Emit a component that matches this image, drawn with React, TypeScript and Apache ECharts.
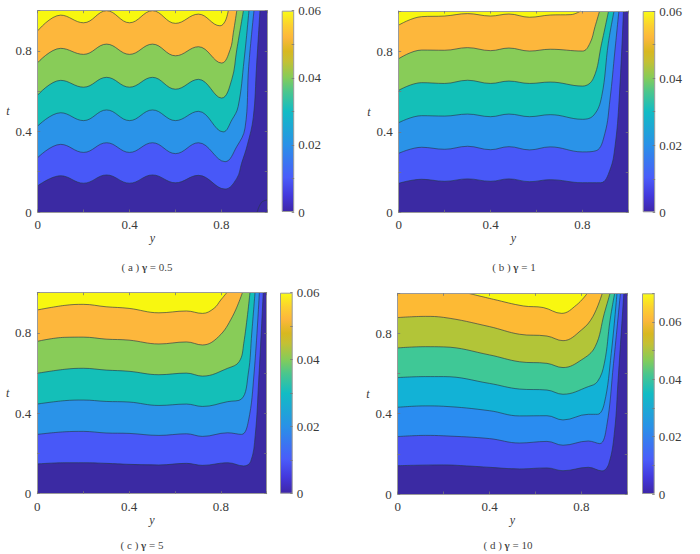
import React, { useEffect, useRef } from "react";
import * as echarts from "echarts";

type Pt = [number, number];

// Contours of panel (a), gamma = 0.5: [y, t]
const a0: Pt[] = [[0.956, 0], [0.975, 0.048], [1, 0.06]];
const a1: Pt[] = [[0, 0.13], [0.1, 0.18], [0.2, 0.143], [0.3, 0.184], [0.4, 0.143], [0.5, 0.184], [0.6, 0.145], [0.7, 0.182], [0.816, 0.114], [0.867, 0.167], [0.888, 0.242], [0.913, 0.333], [0.939, 0.47], [0.953, 0.72], [0.968, 1]];
const a2: Pt[] = [[0, 0.27], [0.1, 0.336], [0.2, 0.296], [0.3, 0.344], [0.4, 0.296], [0.5, 0.344], [0.6, 0.29], [0.7, 0.344], [0.816, 0.25], [0.867, 0.325], [0.903, 0.417], [0.919, 0.723], [0.942, 1]];
const a3: Pt[] = [[0, 0.427], [0.1, 0.493], [0.2, 0.454], [0.3, 0.507], [0.4, 0.454], [0.5, 0.507], [0.6, 0.454], [0.7, 0.5], [0.808, 0.398], [0.846, 0.458], [0.873, 0.524], [0.899, 0.756], [0.92, 1]];
const a4: Pt[] = [[0, 0.581], [0.1, 0.654], [0.2, 0.62], [0.3, 0.669], [0.4, 0.62], [0.5, 0.669], [0.6, 0.61], [0.7, 0.659], [0.801, 0.566], [0.845, 0.657], [0.867, 0.806], [0.896, 1]];
const a5: Pt[] = [[0, 0.742], [0.1, 0.813], [0.2, 0.783], [0.3, 0.834], [0.4, 0.783], [0.5, 0.834], [0.6, 0.776], [0.7, 0.821], [0.801, 0.74], [0.838, 0.806], [0.852, 0.89], [0.867, 1]];
const a6: Pt[] = [[0, 0.9], [0.1, 0.978], [0.2, 0.94], [0.3, 1], [0.4, 0.94], [0.5, 1], [0.6, 0.937], [0.7, 0.983], [0.794, 0.925], [0.816, 0.947], [0.83, 1]];

// Panel (b), gamma = 1
const b1: Pt[] = [[0, 0.144], [0.1, 0.164], [0.2, 0.154], [0.3, 0.166], [0.4, 0.154], [0.48, 0.166], [0.57, 0.152], [0.66, 0.162], [0.8, 0.147], [0.88, 0.147], [0.92, 0.21], [0.942, 0.326], [0.96, 0.558], [0.979, 1]];
const b2: Pt[] = [[0, 0.293], [0.1, 0.323], [0.2, 0.313], [0.3, 0.328], [0.4, 0.311], [0.48, 0.326], [0.57, 0.31], [0.66, 0.325], [0.8, 0.3], [0.86, 0.306], [0.898, 0.392], [0.92, 0.558], [0.942, 0.806], [0.959, 1]];
const b3: Pt[] = [[0, 0.445], [0.1, 0.48], [0.2, 0.478], [0.3, 0.488], [0.4, 0.475], [0.48, 0.488], [0.57, 0.475], [0.66, 0.485], [0.8, 0.462], [0.85, 0.483], [0.884, 0.575], [0.913, 0.84], [0.938, 1]];
const b4: Pt[] = [[0, 0.606], [0.1, 0.644], [0.2, 0.64], [0.3, 0.656], [0.4, 0.64], [0.48, 0.652], [0.57, 0.64], [0.66, 0.647], [0.8, 0.627], [0.848, 0.666], [0.884, 0.84], [0.914, 1]];
const b5: Pt[] = [[0, 0.763], [0.1, 0.806], [0.2, 0.805], [0.3, 0.818], [0.4, 0.803], [0.48, 0.816], [0.57, 0.801], [0.66, 0.81], [0.8, 0.801], [0.833, 0.84], [0.855, 0.922], [0.875, 1]];
const b6: Pt[] = [[0, 0.93], [0.1, 0.972], [0.2, 0.975], [0.3, 0.987], [0.4, 0.975], [0.48, 0.985], [0.57, 0.969], [0.66, 0.98], [0.75, 0.982], [0.793, 1]];

// Panel (c), gamma = 5
const c1: Pt[] = [[0, 0.148], [0.12, 0.154], [0.2, 0.154], [0.3, 0.151], [0.4, 0.146], [0.53, 0.143], [0.65, 0.151], [0.72, 0.141], [0.83, 0.154], [0.9, 0.138], [0.93, 0.16], [0.95, 0.29], [0.965, 0.56], [0.985, 1]];
const c2: Pt[] = [[0, 0.295], [0.12, 0.308], [0.2, 0.31], [0.3, 0.302], [0.4, 0.3], [0.53, 0.29], [0.65, 0.298], [0.72, 0.285], [0.83, 0.303], [0.89, 0.295], [0.92, 0.36], [0.945, 0.6], [0.968, 1]];
const c3: Pt[] = [[0, 0.446], [0.12, 0.463], [0.2, 0.466], [0.3, 0.459], [0.4, 0.456], [0.53, 0.439], [0.65, 0.446], [0.72, 0.434], [0.83, 0.458], [0.89, 0.471], [0.92, 0.6], [0.935, 0.8], [0.949, 1]];
const c4: Pt[] = [[0, 0.599], [0.12, 0.619], [0.2, 0.624], [0.3, 0.615], [0.4, 0.609], [0.53, 0.592], [0.65, 0.6], [0.72, 0.585], [0.83, 0.624], [0.88, 0.657], [0.9, 0.748], [0.927, 1]];
const c5: Pt[] = [[0, 0.758], [0.12, 0.778], [0.2, 0.779], [0.3, 0.769], [0.4, 0.764], [0.53, 0.745], [0.65, 0.755], [0.72, 0.74], [0.79, 0.781], [0.85, 0.88], [0.894, 1]];
const c6: Pt[] = [[0, 0.914], [0.12, 0.937], [0.2, 0.942], [0.3, 0.93], [0.4, 0.922], [0.53, 0.9], [0.65, 0.909], [0.72, 0.897], [0.77, 0.922], [0.8, 0.964], [0.826, 1]];

// Panel (d), gamma = 10
const d1: Pt[] = [[0, 0.141], [0.2, 0.145], [0.3, 0.14], [0.4, 0.133], [0.53, 0.125], [0.65, 0.13], [0.72, 0.116], [0.83, 0.133], [0.89, 0.115], [0.92, 0.153], [0.945, 0.319], [0.96, 0.568], [0.985, 1]];
const d2: Pt[] = [[0, 0.286], [0.12, 0.292], [0.2, 0.29], [0.4, 0.276], [0.53, 0.254], [0.65, 0.262], [0.72, 0.243], [0.83, 0.264], [0.88, 0.251], [0.91, 0.336], [0.94, 0.651], [0.97, 1]];
const d3: Pt[] = [[0, 0.432], [0.12, 0.439], [0.2, 0.437], [0.4, 0.415], [0.53, 0.389], [0.65, 0.39], [0.72, 0.369], [0.83, 0.397], [0.87, 0.397], [0.9, 0.452], [0.93, 0.7], [0.955, 1]];
const d4: Pt[] = [[0, 0.58], [0.12, 0.585], [0.2, 0.585], [0.4, 0.551], [0.53, 0.523], [0.65, 0.518], [0.72, 0.497], [0.83, 0.535], [0.87, 0.56], [0.9, 0.651], [0.925, 0.867], [0.945, 1]];
const d5: Pt[] = [[0, 0.728], [0.12, 0.734], [0.2, 0.733], [0.4, 0.693], [0.53, 0.659], [0.65, 0.651], [0.72, 0.63], [0.8, 0.668], [0.86, 0.734], [0.9, 0.9], [0.925, 1]];
const d6: Pt[] = [[0, 0.879], [0.12, 0.885], [0.2, 0.88], [0.4, 0.834], [0.53, 0.796], [0.65, 0.787], [0.72, 0.764], [0.8, 0.817], [0.85, 0.884], [0.891, 1]];
const d7: Pt[] = [[0.308, 1], [0.417, 0.97], [0.547, 0.937], [0.634, 0.929], [0.714, 0.9], [0.779, 0.942], [0.826, 1]];

const basePlane: Pt[] = [[0, 0], [1, 0]];
const captions = ["a|0.5", "b|1", "c|5", "d|10"];
const axisTicks = ["0", "0.4", "0.8"];
const barTicksLabels = ["0", "0.02", "0.04", "0.06"];
const barMaxima = [0.06, 0.06, 0.06, 0.07];

const contours: Pt[][][] = [
  [a1, a2, a3, a4, a5, a6],
  [b1, b2, b3, b4, b5, b6],
  [c1, c2, c3, c4, c5, c6],
  [d1, d2, d3, d4, d5, d6, d7],
];
const bandColors6 = ["#3B2AA3", "#4858F8", "#2A93E8", "#14BFB8", "#88CC58", "#FDB73C", "#F8F710"];
const bandColors7 = ["#3B2AA3", "#4752F2", "#2A8CF0", "#12B2D6", "#3FC896", "#B2C538", "#FDBA34", "#F8F710"];
const bands = [bandColors6, bandColors6, bandColors6, bandColors7];
const parulaOffsets = [0, 0.08, 0.17, 0.33, 0.5, 0.6, 0.67, 0.75, 0.8, 0.87, 0.93, 1];
const parulaColors = ["#3E26A8", "#4338DC", "#4A5CFA", "#2A90E8", "#12BCC4", "#4CC68C", "#86CC58", "#C4C034", "#D8B820", "#FDB73C", "#FCD030", "#F9FB15"];

const layouts = [
  { l: 37.7, t: 10.7, w: 229.6, h: 201.3, bl: 281.7, bw: 12.5, cx: 147, cy: 267 },
  { l: 398.7, t: 11, w: 229.6, h: 201.3, bl: 642.7, bw: 12.5, cx: 514, cy: 267 },
  { l: 37.3, t: 292.7, w: 229.4, h: 201, bl: 280, bw: 12.7, cx: 142, cy: 545 },
  { l: 397.7, t: 293.3, w: 229.6, h: 200.7, bl: 642, bw: 12.7, cx: 508, cy: 545 },
];

const FONT = "'Liberation Serif', serif";
const AXIS = "#9a9a9a";
const TEXT = "#3a3a3a";

function buildOption() {
  const grid: any[] = [];
  const xAxis: any[] = [];
  const yAxis: any[] = [];
  const series: any[] = [];
  const graphic: any[] = [];

  const fmtMain = (v: number) => {
    const s = String(Math.round(v * 10) / 10);
    return axisTicks.includes(s) ? s : "";
  };
  const fmtBar = (v: number) => {
    const s = String(Math.round(v * 100) / 100);
    return barTicksLabels.includes(s) ? s : "";
  };

  layouts.forEach((g, i) => {
    const mainGrid = grid.length;
    grid.push({ left: g.l, top: g.t, width: g.w, height: g.h });
    const barGrid = grid.length;
    grid.push({ left: g.bl, top: g.t, width: g.bw, height: g.h });

    const common = {
      min: 0, max: 1, interval: 0.2, type: "value", z: 5, splitLine: { show: false },
      axisLine: { show: true, onZero: false, lineStyle: { color: AXIS, width: 1 } },
      axisTick: { show: true, inside: true, length: 2.5, lineStyle: { color: "#777", width: 0.8 } },
    };
    const xMain = xAxis.length;
    xAxis.push({
      ...common, gridIndex: mainGrid, position: "bottom", name: "y", nameLocation: "middle", nameGap: 18,
      nameTextStyle: { fontFamily: FONT, fontStyle: "italic", fontSize: 12, color: TEXT },
      axisLabel: { formatter: fmtMain, fontFamily: FONT, fontSize: 13, color: TEXT, margin: 6, showMinLabel: true, showMaxLabel: true },
    });
    xAxis.push({ ...common, gridIndex: mainGrid, position: "top", axisLabel: { show: false } });
    const yMain = yAxis.length;
    yAxis.push({
      ...common, gridIndex: mainGrid, position: "left", name: "t", nameLocation: "middle", nameRotate: 0, nameGap: 28,
      nameTextStyle: { fontFamily: FONT, fontStyle: "italic", fontSize: 12, color: TEXT },
      axisLabel: { formatter: fmtMain, fontFamily: FONT, fontSize: 13, color: TEXT, margin: 6 },
    });
    yAxis.push({ ...common, gridIndex: mainGrid, position: "right", axisLabel: { show: false } });

    const lineStyleContour = { color: "#27384a", width: 0.8, opacity: 0.8 };
    const colors = bands[i];
    series.push({
      type: "line", xAxisIndex: xMain, yAxisIndex: yMain, data: basePlane, showSymbol: false, silent: true,
      lineStyle: { width: 0 }, areaStyle: { origin: "end", color: colors[0], opacity: 1 },
    });
    contours[i].forEach((c, k) => {
      series.push({
        type: "line", xAxisIndex: xMain, yAxisIndex: yMain, data: c, showSymbol: false, silent: true, smooth: 0.4,
        lineStyle: lineStyleContour, areaStyle: { origin: "end", color: colors[k + 1], opacity: 1 },
      });
    });
    if (i === 0) {
      series.push({
        type: "line", xAxisIndex: xMain, yAxisIndex: yMain, data: a0, showSymbol: false, silent: true, smooth: 0.4,
        lineStyle: lineStyleContour,
      });
    }

    const xBar = xAxis.length;
    xAxis.push({ gridIndex: barGrid, type: "category", data: ["c"], show: false });
    const yBar = yAxis.length;
    yAxis.push({
      gridIndex: barGrid, type: "value", position: "right", min: 0, max: barMaxima[i], interval: 0.01, z: 5,
      splitLine: { show: false },
      axisLine: { show: false },
      axisTick: { show: true, inside: true, length: 2.5, lineStyle: { color: "#777", width: 0.8 } },
      axisLabel: { formatter: fmtBar, fontFamily: FONT, fontSize: 13, color: TEXT, margin: 4, showMaxLabel: true },
    });
    series.push({
      type: "bar", xAxisIndex: xBar, yAxisIndex: yBar, data: [barMaxima[i]], barWidth: "100%", silent: true,
      itemStyle: {
        borderColor: AXIS, borderWidth: 1,
        color: new echarts.graphic.LinearGradient(0, 1, 0, 0, parulaOffsets.map((o, n) => ({ offset: o, color: parulaColors[n] }))),
      },
    });

    const [letter, gamma] = captions[i].split("|");
    graphic.push({
      type: "text", x: g.cx, y: g.cy,
      style: {
        text: `( ${letter} ) {g|γ} = ${gamma}`,
        align: "center", verticalAlign: "middle",
        textAlign: "center", textVerticalAlign: "middle",
        font: `11px ${FONT}`, fill: "#444",
        rich: { g: { fontFamily: FONT, fontSize: 11, fontWeight: "bold", fill: "#444", color: "#444" } },
      },
    });
  });

  return { animation: false, backgroundColor: "#fff", grid, xAxis, yAxis, series, graphic };
}

export default function App() {
  const ref = useRef<HTMLDivElement>(null);
  useEffect(() => {
    document.body.style.margin = "0";
    const chart = echarts.init(ref.current!, undefined, { renderer: "svg" });
    chart.setOption(buildOption());
    return () => chart.dispose();
  }, []);
  return <div ref={ref} style={{ width: 700, height: 554 }} />;
}
